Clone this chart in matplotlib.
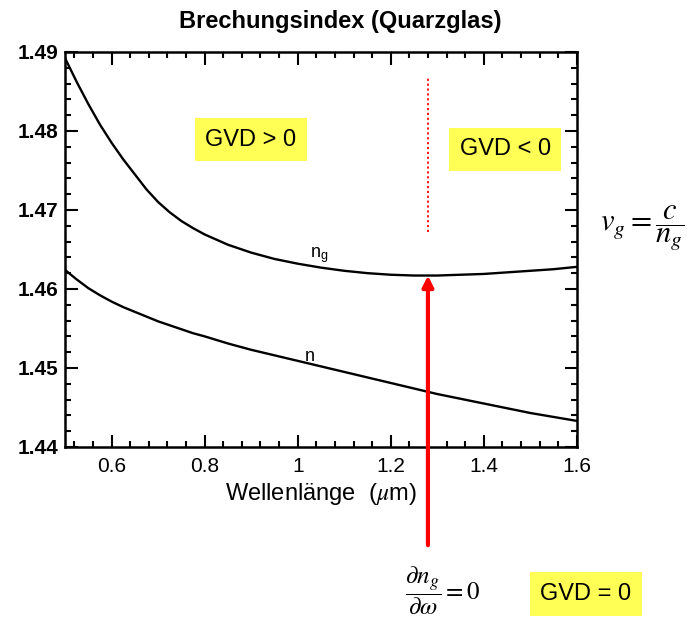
import matplotlib
matplotlib.use("Agg")
import matplotlib.pyplot as plt
from matplotlib.ticker import MultipleLocator

plt.rcParams['font.family'] = ['Liberation Sans', 'DejaVu Sans']
plt.rcParams['mathtext.fontset'] = 'stix'

# wavelength in micrometres
wavelength = [0.500, 0.525, 0.550, 0.575, 0.600, 0.625, 0.650, 0.675, 0.700,
              0.725, 0.750, 0.775, 0.800, 0.85, 0.90, 0.95, 1.00, 1.05, 1.10,
              1.15, 1.20, 1.25, 1.30, 1.35, 1.40, 1.45, 1.50, 1.55, 1.60]
# group index n_g of fused silica
n_group = [1.4892, 1.4862, 1.4834, 1.4808, 1.4785, 1.4764, 1.4745, 1.4726,
           1.4710, 1.4697, 1.4686, 1.4677, 1.4669, 1.4656, 1.4646, 1.4638,
           1.4632, 1.4627, 1.4623, 1.4620, 1.4618, 1.4617, 1.4617, 1.4618,
           1.4619, 1.4621, 1.4623, 1.4625, 1.4628]
# phase index n
n_phase = [1.4624, 1.4612, 1.4601, 1.4592, 1.4584, 1.4577, 1.4571, 1.4565,
           1.4559, 1.4554, 1.4549, 1.4544, 1.4540, 1.4531, 1.4523, 1.4516,
           1.4509, 1.4502, 1.4495, 1.4488, 1.4481, 1.4474, 1.4467, 1.4461,
           1.4455, 1.4449, 1.4443, 1.4438, 1.4433]

zero_dispersion = 1.28   # wavelength where d n_g / d omega = 0
ng_min = 1.4617

fig = plt.figure(figsize=(7.0, 6.26), dpi=100)
ax = fig.add_axes([0.093, 0.286, 0.731, 0.631])

ax.plot(wavelength, n_group, color='black', lw=1.7)
ax.plot(wavelength, n_phase, color='black', lw=1.7)

ax.set_xlim(0.5, 1.6)
ax.set_ylim(1.44, 1.49)
ax.xaxis.set_minor_locator(MultipleLocator(0.04))
ax.yaxis.set_minor_locator(MultipleLocator(0.002))
ax.set_xticks([0.6, 0.8, 1.0, 1.2, 1.4, 1.6])
ax.set_xticklabels(['0.6', '0.8', '1', '1.2', '1.4', '1.6'])
ax.set_yticks([1.44, 1.45, 1.46, 1.47, 1.48, 1.49])
ax.set_yticklabels(['1.44', '1.45', '1.46', '1.47', '1.48', '1.49'])
ax.tick_params(which='both', direction='in', top=True, right=True, width=1.5,
               colors='black')
ax.tick_params(which='major', length=9)
ax.tick_params(which='minor', length=4)
ax.tick_params(axis='x', labelsize=15, pad=7)
ax.tick_params(axis='y', labelsize=15, pad=5)
for sp in ax.spines.values():
    sp.set_linewidth(1.8)
for lbl in ax.get_yticklabels():
    lbl.set_fontweight('bold')

ax.set_xlabel(r'Wellenlänge  ($\mu$m)', fontsize=17, labelpad=4)
fig.text(0.486, 0.965, 'Brechungsindex (Quarzglas)', fontsize=17,
         fontweight='bold', ha='center', va='center')

# curve labels
ax.text(1.047, 1.4643, r'n$_\mathregular{g}$', fontsize=13, ha='center', va='center')
ax.text(1.026, 1.4514, 'n', fontsize=13, ha='center', va='center')

# boundary between the two dispersion regimes
ax.plot([zero_dispersion, zero_dispersion], [1.4672, 1.4867], color='red',
        lw=1.3, ls=(0, (1.2, 1.5)))

# arrow from below the axes up to the minimum of n_g
ax.annotate('', xy=(zero_dispersion, ng_min), xycoords='data',
            xytext=(zero_dispersion, 0.129), textcoords=('data', 'figure fraction'),
            arrowprops=dict(arrowstyle='-|>', color='red', lw=3,
                            mutation_scale=16, shrinkA=0, shrinkB=0),
            annotation_clip=False)

box = dict(boxstyle='square,pad=0.45', fc='#ffff55', ec='none')
ax.text(0.899, 1.4789, 'GVD > 0', fontsize=17, ha='center', va='center', bbox=box)
ax.text(1.446, 1.4777, 'GVD < 0', fontsize=17, ha='center', va='center', bbox=box)
fig.text(0.837, 0.051, 'GVD = 0', fontsize=17, ha='center', va='center', bbox=box)

# group velocity and zero dispersion condition
fig.text(0.918, 0.636, r'$v_g = \dfrac{c}{n_g}$', fontsize=22, ha='center', va='center')
fig.text(0.632, 0.057, r'$\dfrac{\partial n_g}{\partial \omega} = 0$', fontsize=18,
         ha='center', va='center')

fig.savefig('out.png', dpi=100)
